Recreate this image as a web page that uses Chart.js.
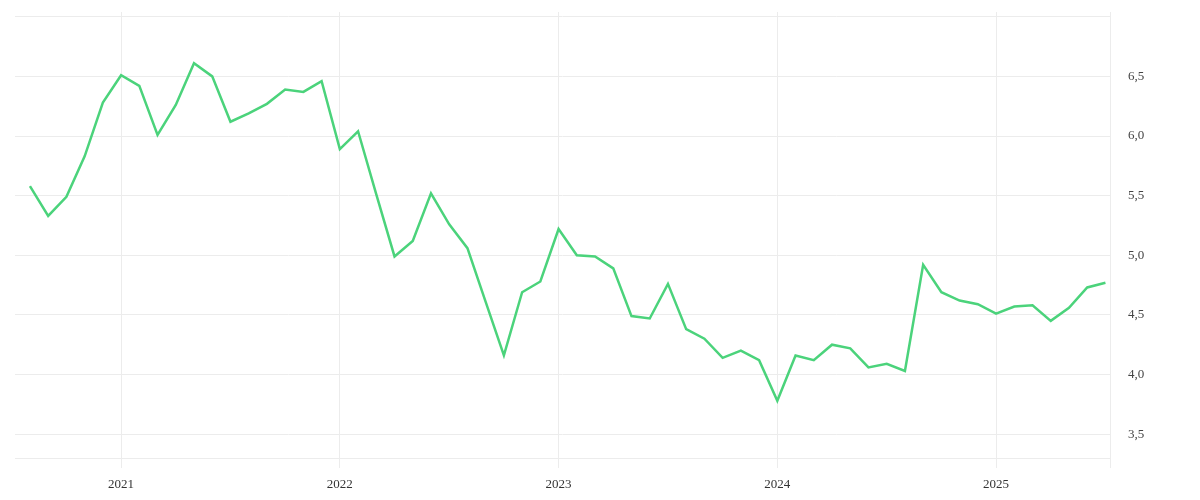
<!DOCTYPE html>
<html>
<head>
<meta charset="utf-8">
<title>Chart</title>
<script src="https://cdn.jsdelivr.net/npm/chart.js@4/dist/chart.umd.min.js"></script>
<style>
  html, body { margin: 0; padding: 0; background: #fff; }
  #wrap { width: 1200px; height: 500px; position: relative; }
</style>
</head>
<body>
<div id="wrap"><canvas id="chart"></canvas></div>
<script>
// monthly observations, Aug 2020 .. Jul 2025
const MONTHS = [
  '2020-08','2020-09','2020-10','2020-11','2020-12',
  '2021-01','2021-02','2021-03','2021-04','2021-05','2021-06','2021-07','2021-08','2021-09','2021-10','2021-11','2021-12',
  '2022-01','2022-02','2022-03','2022-04','2022-05','2022-06','2022-07','2022-08','2022-09','2022-10','2022-11','2022-12',
  '2023-01','2023-02','2023-03','2023-04','2023-05','2023-06','2023-07','2023-08','2023-09','2023-10','2023-11','2023-12',
  '2024-01','2024-02','2024-03','2024-04','2024-05','2024-06','2024-07','2024-08','2024-09','2024-10','2024-11','2024-12',
  '2025-01','2025-02','2025-03','2025-04','2025-05','2025-06','2025-07'
];
const VALUES = [
  5.58, 5.33, 5.49, 5.83, 6.28,
  6.51, 6.42, 6.01, 6.26, 6.61, 6.50, 6.12, 6.19, 6.27, 6.39, 6.37, 6.46,
  5.89, 6.04, 5.51, 4.99, 5.12, 5.52, 5.26, 5.06, 4.61, 4.16, 4.69, 4.78,
  5.22, 5.00, 4.99, 4.89, 4.49, 4.47, 4.76, 4.38, 4.30, 4.14, 4.20, 4.12,
  3.78, 4.16, 4.12, 4.25, 4.22, 4.06, 4.09, 4.03, 4.92, 4.69, 4.62, 4.59,
  4.51, 4.57, 4.58, 4.45, 4.56, 4.73, 4.77
];
const Y_TICKS  = [3.5, 4.0, 4.5, 5.0, 5.5, 6.0, 6.5, 7.0];
const Y_LABELS = ['3,5', '4,0', '4,5', '5,0', '5,5', '6,0', '6,5', ''];

const X_MIN = -0.82, X_MAX = 59.25;
const Y_MIN = 3.3,   Y_MAX = 7.04;

const GRID = '#ececec';
const FONT = { family: "'Liberation Serif', 'DejaVu Serif', serif", size: 13 };

// January of each year gets a tick, labelled with the year
const yearIdx = MONTHS.map((m, i) => m.endsWith('-01') ? i : -1).filter(i => i >= 0);

new Chart(document.getElementById('chart'), {
  type: 'line',
  data: {
    datasets: [{
      data: VALUES.map((v, i) => ({ x: i, y: v })),
      borderColor: '#4bd37b',
      borderWidth: 2.5,
      pointRadius: 0,
      pointHoverRadius: 0,
      tension: 0,
      fill: false
    }]
  },
  options: {
    responsive: true,
    maintainAspectRatio: false,
    animation: false,
    layout: { padding: { left: 15, top: 12, right: 0, bottom: 0 } },
    plugins: { legend: { display: false }, tooltip: { enabled: false } },
    scales: {
      x: {
        type: 'linear',
        min: X_MIN, max: X_MAX,
        afterBuildTicks: s => { s.ticks = yearIdx.concat([X_MAX]).map(v => ({ value: v })); },
        afterFit: s => { s.height = 42; s.paddingLeft = 0; s.paddingRight = 0; },
        grid: { color: GRID, tickLength: 10, tickColor: GRID },
        border: { display: true, color: GRID },
        ticks: {
          font: FONT, color: '#333', padding: 9, maxRotation: 0,
          autoSkip: false,
          callback: v => { const m = MONTHS[v]; return (m && m.endsWith('-01')) ? m.slice(0, 4) : ''; }
        }
      },
      y: {
        position: 'right',
        min: Y_MIN, max: Y_MAX,
        afterBuildTicks: s => { s.ticks = Y_TICKS.map(v => ({ value: v })); },
        afterFit: s => { s.width = 90; s.paddingTop = 0; s.paddingBottom = 0; },
        grid: { color: GRID, drawTicks: false },
        border: { display: false },
        ticks: {
          font: FONT, color: '#444', padding: 18,
          callback: v => { const k = Y_TICKS.indexOf(v); return k >= 0 ? Y_LABELS[k] : ''; }
        }
      }
    }
  }
});
</script>
</body>
</html>
